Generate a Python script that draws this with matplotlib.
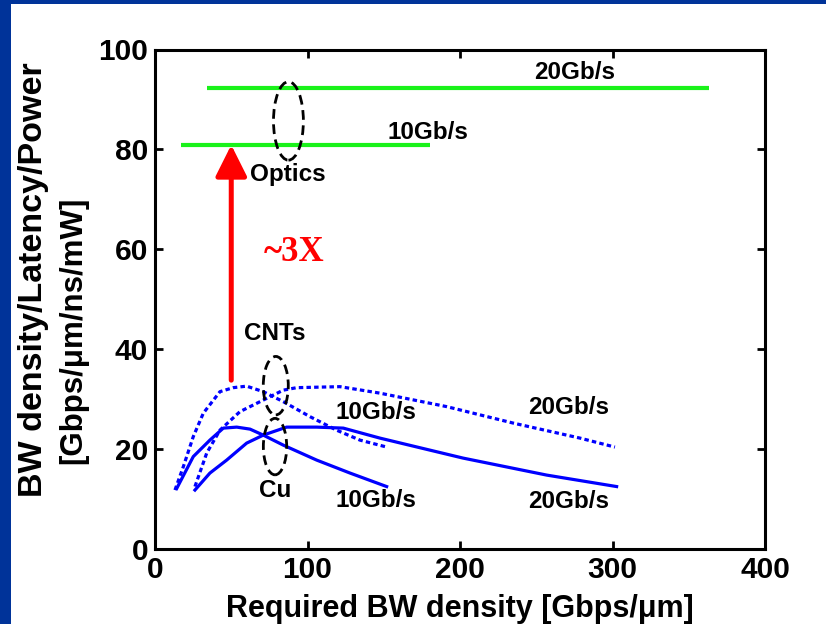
import matplotlib
matplotlib.use("Agg")
import matplotlib.pyplot as plt
from matplotlib.patches import Ellipse, Rectangle, FancyArrowPatch

# Required BW density [Gbps/um] vs. figure of merit
cnt_10_x = [13.1, 18.6, 25.1, 31.7, 42.6, 51.3, 60.1, 71.0, 84.1, 101.6, 119.0, 134.4, 150.8]
cnt_10_y = [11.8, 16.5, 22.5, 27.2, 31.5, 32.3, 32.6, 31.5, 29.5, 26.5, 23.8, 21.8, 20.5]

cnt_20_x = [26.2, 33.9, 42.6, 55.7, 68.9, 84.1, 92.9, 121.3, 147.5, 191.3, 235.0, 278.7, 301.6]
cnt_20_y = [12.5, 19.2, 23.8, 27.5, 29.5, 31.8, 32.3, 32.5, 31.2, 28.5, 25.2, 22.2, 20.4]

cu_10_x = [14.2, 25.1, 36.0, 44.8, 53.6, 62.3, 71.0, 84.1, 106.0, 127.9, 151.9]
cu_10_y = [12.1, 18.5, 21.8, 24.2, 24.4, 24.0, 22.8, 20.8, 17.8, 15.2, 12.5]

cu_20_x = [26.2, 36.0, 47.0, 60.1, 71.0, 86.3, 106.0, 123.5, 147.5, 202.0, 256.8, 302.7]
cu_20_y = [11.8, 15.2, 17.8, 21.2, 22.8, 24.4, 24.4, 24.2, 22.2, 18.2, 14.8, 12.5]

optics_10_x = [17.3, 180.0]
optics_10_y = [80.9, 80.9]
optics_20_x = [33.9, 363.0]
optics_20_y = [92.3, 92.3]

x_ticks = [0, 100, 200, 300, 400]
y_ticks = [0, 20, 40, 60, 80, 100]

BLUE = (0, 0, 1)
GREEN = (0.1, 0.95, 0.1)
RED = (1, 0, 0)
FRAME = "#003399"
SANS = ["Liberation Sans", "DejaVu Sans"]

plt.rcParams["font.family"] = SANS
plt.rcParams["font.weight"] = "bold"

fig = plt.figure(figsize=(8.26, 6.24), dpi=100)
fig.patch.set_facecolor("white")

# slide frame: blue strips along top and left edges
fig.patches.append(Rectangle((0, 0), 11 / 826, 1, transform=fig.transFigure,
                             facecolor=FRAME, edgecolor="none", zorder=0))
fig.patches.append(Rectangle((0, 1 - 4 / 624), 1, 4 / 624, transform=fig.transFigure,
                             facecolor=FRAME, edgecolor="none", zorder=0))

ax = fig.add_axes([155 / 826, 75 / 624, 610 / 826, 499.5 / 624])
ax.set_xlim(0, 400)
ax.set_ylim(0, 100)

# curves
ax.plot(cnt_10_x, cnt_10_y, color=BLUE, lw=2.3, ls=(0, (1.4, 1.0)))
ax.plot(cnt_20_x, cnt_20_y, color=BLUE, lw=2.3, ls=(0, (1.4, 1.0)))
ax.plot(cu_10_x, cu_10_y, color=BLUE, lw=2.3)
ax.plot(cu_20_x, cu_20_y, color=BLUE, lw=2.3)
ax.plot(optics_10_x, optics_10_y, color=GREEN, lw=3.0, solid_capstyle="butt")
ax.plot(optics_20_x, optics_20_y, color=GREEN, lw=3.0, solid_capstyle="butt")

# improvement arrow
arrow = FancyArrowPatch((50, 33.8), (50, optics_10_y[0]),
                        arrowstyle="-|>", mutation_scale=48, lw=3.6,
                        color=RED, shrinkA=0, shrinkB=0, zorder=5)
ax.add_patch(arrow)
ax.text(91.3, 59.3, "~3X", color=RED, fontsize=25, fontweight="bold",
        family=["Liberation Serif", "DejaVu Serif"], ha="center", va="center")

# group outlines
for cx, cy, w, h in [(87.5, 85.7, 19.6, 15.7), (79.2, 32.7, 16.4, 11.7), (78.7, 20.5, 15.3, 11.3)]:
    ax.add_patch(Ellipse((cx, cy), w, h, fill=False, edgecolor="black",
                         lw=2.0, ls=(0, (3.5, 2.0)), zorder=6))

labels = [
    (275.4, 95.4, "20Gb/s"),
    (178.9, 83.3, "10Gb/s"),
    (87.0, 74.9, "Optics"),
    (78.7, 43.2, "CNTs"),
    (144.8, 27.3, "10Gb/s"),
    (271.0, 28.3, "20Gb/s"),
    (78.7, 11.8, "Cu"),
    (144.8, 9.8, "10Gb/s"),
    (271.0, 9.6, "20Gb/s"),
]
for x, y, s in labels:
    ax.text(x, y, s, fontsize=17.5, fontweight="bold", ha="center", va="center")

# axes styling
for sp in ax.spines.values():
    sp.set_linewidth(2.2)
ax.set_xticks(x_ticks)
ax.set_yticks(y_ticks)
ax.tick_params(direction="in", length=6, width=2, top=True, right=True,
               labelsize=21.5, pad=5)
for lab in ax.get_xticklabels() + ax.get_yticklabels():
    lab.set_fontweight("bold")

fig.text(460 / 826, 1 - 609 / 624, "Required BW density [Gbps/\u03bcm]",
         fontsize=22, fontweight="bold", ha="center", va="center")
fig.text(34 / 826, 1 - 280 / 624, "BW density/Latency/Power",
         fontsize=24.5, fontweight="bold", ha="center", va="center", rotation=90)
fig.text(73.5 / 826, 1 - 330 / 624, "[Gbps/\u03bcm/ns/mW]",
         fontsize=22.5, fontweight="bold", ha="center", va="center", rotation=90)

fig.savefig("out.png", dpi=100)
